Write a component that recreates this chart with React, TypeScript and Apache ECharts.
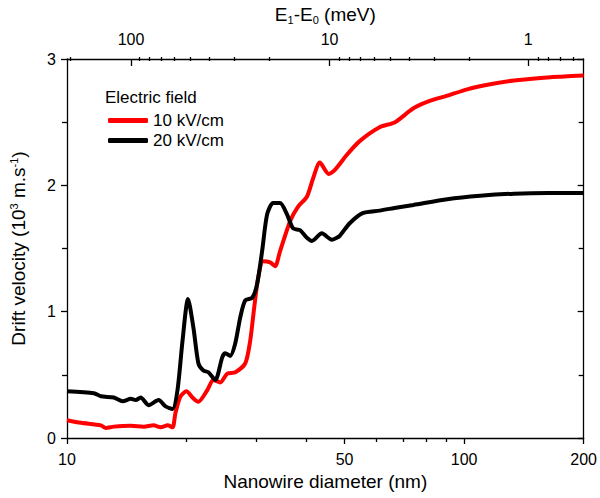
import React, { useEffect, useRef } from "react";
import * as echarts from "echarts";

// Nanowire diameter (nm) and drift velocity (10^3 m/s)
const redDiameter = [10, 10.84, 12.17, 12.52, 13.12, 14.47, 15.6, 16.52, 17.21, 17.92, 18.44, 18.76, 19.31, 20.0, 20.7, 21.4, 22.57, 23.36, 24.32, 25.33, 26.53, 28.11, 28.93, 29.6, 30.3, 31.19, 32.47, 33.42, 34.4, 36.5, 38.16, 40.19, 41.61, 43.33, 45.6, 47.2, 50.62, 54.58, 61.26, 67.0, 74.55, 82.22, 90.72, 101.8, 116.3, 133.6, 156.1, 175.1, 200];
const redVelocity = [0.14, 0.12, 0.10, 0.08, 0.09, 0.097, 0.09, 0.10, 0.085, 0.10, 0.085, 0.2, 0.33, 0.37, 0.32, 0.286, 0.38, 0.46, 0.44, 0.51, 0.52, 0.59, 0.77, 1.03, 1.27, 1.40, 1.39, 1.36, 1.48, 1.72, 1.83, 1.91, 2.05, 2.18, 2.09, 2.12, 2.24, 2.35, 2.46, 2.50, 2.61, 2.67, 2.71, 2.76, 2.80, 2.83, 2.85, 2.86, 2.87];

const blackDiameter = [10, 11.69, 12.17, 13.12, 13.82, 14.47, 14.89, 15.33, 16.05, 17.01, 17.71, 18.44, 18.98, 19.54, 20.17, 20.82, 21.43, 22.05, 22.7, 23.63, 24.61, 25.04, 25.77, 26.53, 27.31, 28.11, 29.27, 30.12, 31.0, 31.91, 33.03, 34.4, 35.81, 37.08, 38.61, 40.19, 41.37, 43.83, 46.43, 47.79, 48.62, 51.52, 55.53, 61.26, 67.96, 74.55, 90.72, 109.7, 133.6, 162.5, 200];
const blackVelocity = [0.37, 0.354, 0.33, 0.32, 0.29, 0.31, 0.30, 0.32, 0.26, 0.30, 0.25, 0.23, 0.38, 0.77, 1.10, 0.87, 0.59, 0.535, 0.52, 0.46, 0.64, 0.67, 0.65, 0.75, 0.955, 1.09, 1.11, 1.22, 1.48, 1.77, 1.86, 1.86, 1.77, 1.66, 1.645, 1.585, 1.56, 1.62, 1.57, 1.585, 1.60, 1.70, 1.78, 1.80, 1.825, 1.845, 1.89, 1.917, 1.934, 1.94, 1.94];

const seriesNames = ["10 kV/cm", "20 kV/cm"];
const seriesColors = ["#ff0000", "#000000"];
const legendTitle = "Electric field";

const diameterRange = [10, 200];
const bottomMajorTicks = [10, 50, 100, 200];
const bottomMinorTicks = [20, 30, 40, 60, 70, 80, 90];

const energyRange = [0.525, 210];
const topMajorTicks = [1, 10, 100];
const topMinorTicks = [0.6, 0.7, 0.8, 0.9, 2, 3, 4, 5, 6, 7, 8, 9, 20, 30, 40, 50, 60, 70, 80, 90, 200];

const velocityRange = [0, 3];
const velocityTicks = [0, 1, 2, 3];

const FONT = "Liberation Sans";

export default function App() {
  const ref = useRef<HTMLDivElement>(null);

  useEffect(() => {
    if (!ref.current) return;
    const chart = echarts.init(ref.current, undefined, { renderer: "svg" });
    const axisLine = { show: true, onZero: false, lineStyle: { color: "#000", width: 1.3 } };
    const tickLine = { color: "#000", width: 1.3 };
    const gridBox = { left: 66, right: 15, top: 57, bottom: 60 };

    const option: any = {
      animation: false,
      textStyle: { fontFamily: FONT, color: "#000" },
      grid: [{ ...gridBox }, { ...gridBox }],
      legend: {
        data: seriesNames.map((n) => ({ name: n, icon: "roundRect" })),
        orient: "vertical",
        left: 103,
        top: 107,
        itemWidth: 40,
        itemHeight: 5,
        itemGap: 3,
        textStyle: { fontFamily: FONT, fontSize: 17, color: "#000" },
      },
      graphic: [
        {
          type: "text",
          left: 105,
          top: 89,
          style: { text: legendTitle, fontFamily: FONT, fontSize: 17, fill: "#000" },
        },
      ],
      xAxis: [
        {
          gridIndex: 0,
          type: "log",
          logBase: 10,
          min: diameterRange[0],
          max: diameterRange[1],
          position: "bottom",
          name: "Nanowire diameter (nm)",
          nameLocation: "middle",
          nameGap: 31,
          nameTextStyle: { fontFamily: FONT, fontSize: 19, color: "#000" },
          axisLine,
          axisTick: { show: true, inside: false, length: 6, customValues: bottomMajorTicks, lineStyle: tickLine },
          axisLabel: {
            customValues: bottomMajorTicks,
            fontFamily: FONT,
            fontSize: 16,
            color: "#000",
            margin: 13,
            formatter: (v: number) => String(Math.round(v)),
          },
          splitLine: { show: false },
        },
        {
          gridIndex: 0,
          type: "log",
          logBase: 10,
          inverse: true,
          min: energyRange[0],
          max: energyRange[1],
          position: "top",
          name: "E{sub|1}-E{sub|0} (meV)",
          nameLocation: "middle",
          nameGap: 34,
          nameTextStyle: {
            fontFamily: FONT,
            fontSize: 19,
            color: "#000",
            rich: { sub: { fontFamily: FONT, fontSize: 11, color: "#000", padding: [10, 0, 0, 0] } },
          },
          axisLine,
          axisTick: { show: true, inside: true, length: 7, customValues: topMajorTicks, lineStyle: tickLine },
          axisLabel: {
            customValues: topMajorTicks,
            fontFamily: FONT,
            fontSize: 16,
            color: "#000",
            margin: 12,
            formatter: (v: number) => String(Math.round(v)),
          },
          splitLine: { show: false },
        },
        {
          gridIndex: 1,
          type: "log",
          logBase: 10,
          min: diameterRange[0],
          max: diameterRange[1],
          position: "bottom",
          axisLine: { show: false },
          axisTick: { show: true, inside: false, length: 4, customValues: bottomMinorTicks, lineStyle: tickLine },
          axisLabel: { show: false },
          splitLine: { show: false },
        },
        {
          gridIndex: 1,
          type: "log",
          logBase: 10,
          inverse: true,
          min: energyRange[0],
          max: energyRange[1],
          position: "top",
          axisLine: { show: false },
          axisTick: { show: true, inside: true, length: 4, customValues: topMinorTicks, lineStyle: tickLine },
          axisLabel: { show: false },
          splitLine: { show: false },
        },
      ],
      yAxis: [
        {
          gridIndex: 0,
          type: "value",
          min: velocityRange[0],
          max: velocityRange[1],
          interval: 1,
          position: "left",
          name: "Drift velocity (10{sup|3} m.s{sup|-1})",
          nameLocation: "middle",
          nameGap: 38,
          nameRotate: 90,
          nameTextStyle: {
            fontFamily: FONT,
            fontSize: 19,
            color: "#000",
            rich: { sup: { fontFamily: FONT, fontSize: 11, color: "#000", padding: [0, 0, 10, 0] } },
          },
          axisLine,
          axisTick: { show: true, inside: false, length: 6, lineStyle: tickLine },
          minorTick: { show: true, splitNumber: 2, length: 5, lineStyle: tickLine },
          axisLabel: {
            customValues: velocityTicks,
            fontFamily: FONT,
            fontSize: 16,
            color: "#000",
            margin: 11,
          },
          splitLine: { show: false },
        },
        {
          gridIndex: 0,
          type: "value",
          min: velocityRange[0],
          max: velocityRange[1],
          interval: 1,
          position: "right",
          axisLine,
          axisTick: { show: true, inside: true, length: 6, lineStyle: tickLine },
          minorTick: { show: true, splitNumber: 2, length: 5, lineStyle: tickLine },
          axisLabel: { show: false },
          splitLine: { show: false },
        },
        {
          gridIndex: 1,
          type: "value",
          min: velocityRange[0],
          max: velocityRange[1],
          show: false,
        },
      ],
      series: [
        {
          name: seriesNames[0],
          type: "line",
          xAxisIndex: 0,
          yAxisIndex: 0,
          data: redDiameter.map((d, i) => [d, redVelocity[i]]),
          showSymbol: false,
          symbol: "none",
          smooth: 0.25,
          lineStyle: { color: seriesColors[0], width: 4 },
          itemStyle: { color: seriesColors[0] },
          z: 3,
        },
        {
          name: seriesNames[1],
          type: "line",
          xAxisIndex: 0,
          yAxisIndex: 0,
          data: blackDiameter.map((d, i) => [d, blackVelocity[i]]),
          showSymbol: false,
          symbol: "none",
          smooth: 0.25,
          lineStyle: { color: seriesColors[1], width: 4 },
          itemStyle: { color: seriesColors[1] },
          z: 4,
        },
      ],
    };

    chart.setOption(option);
    return () => chart.dispose();
  }, []);

  return (
    <div
      ref={ref}
      style={{ position: "fixed", left: 0, top: 0, width: 600, height: 498, background: "#fff" }}
    />
  );
}
